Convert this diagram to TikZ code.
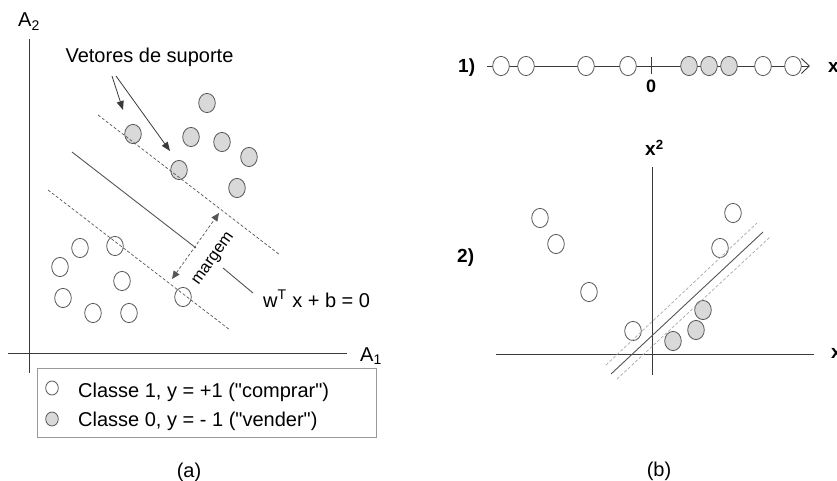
\documentclass[tikz,border=0pt]{standalone}
\usepackage{fontspec}
\setmainfont{Liberation Sans}
\usetikzlibrary{arrows.meta,shapes.geometric}
\definecolor{ln}{HTML}{3A3A3A}
\definecolor{cl}{HTML}{555555}
\definecolor{gfill}{HTML}{D9D9D9}
\definecolor{lgray}{HTML}{A8A8A8}
\definecolor{boxc}{HTML}{999999}
\begin{document}
\begin{tikzpicture}[x=1pt,y=-1pt,
  axis/.style={draw=ln,line width=0.9pt},
  wpt/.style={ellipse,draw=cl,fill=white,line width=0.8pt,minimum width=16.6pt,minimum height=19.2pt,inner sep=0pt},
  gpt/.style={wpt,fill=gfill},
  lwpt/.style={wpt,minimum width=12.6pt,minimum height=14pt},
  lgpt/.style={lwpt,fill=gfill},
  dsh/.style={draw=cl,line width=0.7pt,dash pattern=on 3pt off 2pt},
  ldsh/.style={draw=lgray,line width=0.7pt,dash pattern=on 3pt off 2pt},
  sepline/.style={draw=cl,line width=0.9pt},
  arr/.style={draw=ln,line width=0.8pt,-{Triangle[length=9pt,width=7pt]}},
  lbl/.style={inner sep=0pt,font=\fontsize{20}{24}\selectfont},
  blbl/.style={inner sep=0pt,font=\fontsize{19}{23}\selectfont\bfseries}]
\useasboundingbox (0,0) rectangle (837,481);
% ---------- panel (a) ----------
\draw[axis] (29,39) -- (29,373);
\draw[axis] (8,353) -- (347,353);
\node[lbl,anchor=base west] (a2) at (18,27) {A\textsubscript{2}};
\node[lbl,anchor=base west] (a1) at (360,361) {A\textsubscript{1}};
% class points
\node[gpt] (g1) at (207,103) {};
\node[gpt] (g2) at (133,134) {};
\node[gpt] (g3) at (191,137) {};
\node[gpt] (g4) at (222,142) {};
\node[gpt] (g5) at (249,157) {};
\node[gpt] (g6) at (179,170) {};
\node[gpt] (g7) at (237,188) {};
\node[wpt] (w1) at (80,248) {};
\node[wpt] (w2) at (115,246) {};
\node[wpt] (w3) at (60,267) {};
\node[wpt] (w4) at (122,281) {};
\node[wpt] (w5) at (63,298) {};
\node[wpt] (w6) at (93,313) {};
\node[wpt] (w7) at (129,313) {};
\node[wpt] (w8) at (183,297) {};
% margins and separator
\draw[dsh] (98,115) -- (280,255);
\draw[dsh] (48,190) -- (230,330);
\draw[sepline] (72,152) -- (196,248);
\coordinate (m1) at (172,279);
\coordinate (m2) at (219,213);
\draw[dsh,{Triangle[length=8pt,width=7pt]}-{Triangle[length=8pt,width=7pt]}] (m1) -- (m2);
\node[inner sep=0pt,font=\fontsize{16.5}{19}\selectfont,rotate=54.5] (mg) at (214,259) {margem};
\node[lbl,anchor=base west] (weq) at (263,307) {w\textsuperscript{T} x + b = 0};
\coordinate (ld1) at (223,268);
\coordinate (ld2) at (253,293);
\draw[sepline] (ld1) -- (ld2);
% support vector label
\node[lbl,anchor=base] (vs) at (149.5,63) {Vetores de suporte};
\coordinate (s1) at (112,76);
\coordinate (s2) at (116,76);
\coordinate (e1) at (123,110);
\coordinate (e2) at (170,151);
\draw[arr] (s1) -- (e1);
\draw[arr] (s2) -- (e2);
% legend
\draw[draw=boxc,line width=0.8pt] (37,368) rectangle (376,437);
\node[lwpt] (lw) at (52,388) {};
\node[lgpt] (lg) at (52,419) {};
\node[lbl,anchor=base west] (lt1) at (78,397) {Classe 1, y = +1 (\textquotedbl comprar\textquotedbl)};
\node[lbl,anchor=base west] (lt2) at (78,426) {Classe 0, y = - 1 (\textquotedbl vender\textquotedbl)};
\node[lbl,anchor=base] (capa) at (189,477) {(a)};
% ---------- panel (b) ----------
\node[blbl,anchor=base west] (p1) at (458,73) {1)};
\draw[axis,-{Straight Barb[length=8pt,width=15pt,line width=0.9pt]}] (487,66) -- (810,66);
\draw[axis] (651,57) -- (651,74);
\node[inner sep=0pt,font=\fontsize{18}{22}\selectfont\bfseries,anchor=base] (zero) at (651,92.5) {0};
\node[blbl,anchor=base west] (x1) at (828,73) {x};
\foreach \n/\xx in {a/501,b/526,c/586,d/628,e/763,f/793}
  \node[wpt] (lw\n) at (\xx,66) {};
\foreach \n/\xx in {a/689,b/709,c/729}
  \node[gpt] (lg\n) at (\xx,66) {};
% 2D
\draw[axis] (652,167) -- (652,375);
\draw[axis] (496,354) -- (814,354);
\node[blbl,anchor=base west] (x2) at (645,156) {x\textsuperscript{2}};
\node[blbl,anchor=base west] (x3) at (831,358) {x};
\node[blbl,anchor=base west] (p2) at (457,262) {2)};
\node[wpt] (bw1) at (540,218) {};
\node[wpt] (bw2) at (556,244) {};
\node[wpt] (bw3) at (589,292) {};
\node[wpt] (bw4) at (633,331) {};
\node[wpt] (bw5) at (720,248) {};
\node[wpt] (bw6) at (733,213) {};
\node[gpt] (bg1) at (673,341) {};
\node[gpt] (bg2) at (696,330) {};
\node[gpt] (bg3) at (703,310) {};
\draw[ldsh] (606,365) -- (757,223);
\draw[ldsh] (617,379) -- (770,237);
\draw[sepline] (611,374) -- (763,232);
\node[lbl,anchor=base] (capb) at (659,476) {(b)};
\end{tikzpicture}
\end{document}
